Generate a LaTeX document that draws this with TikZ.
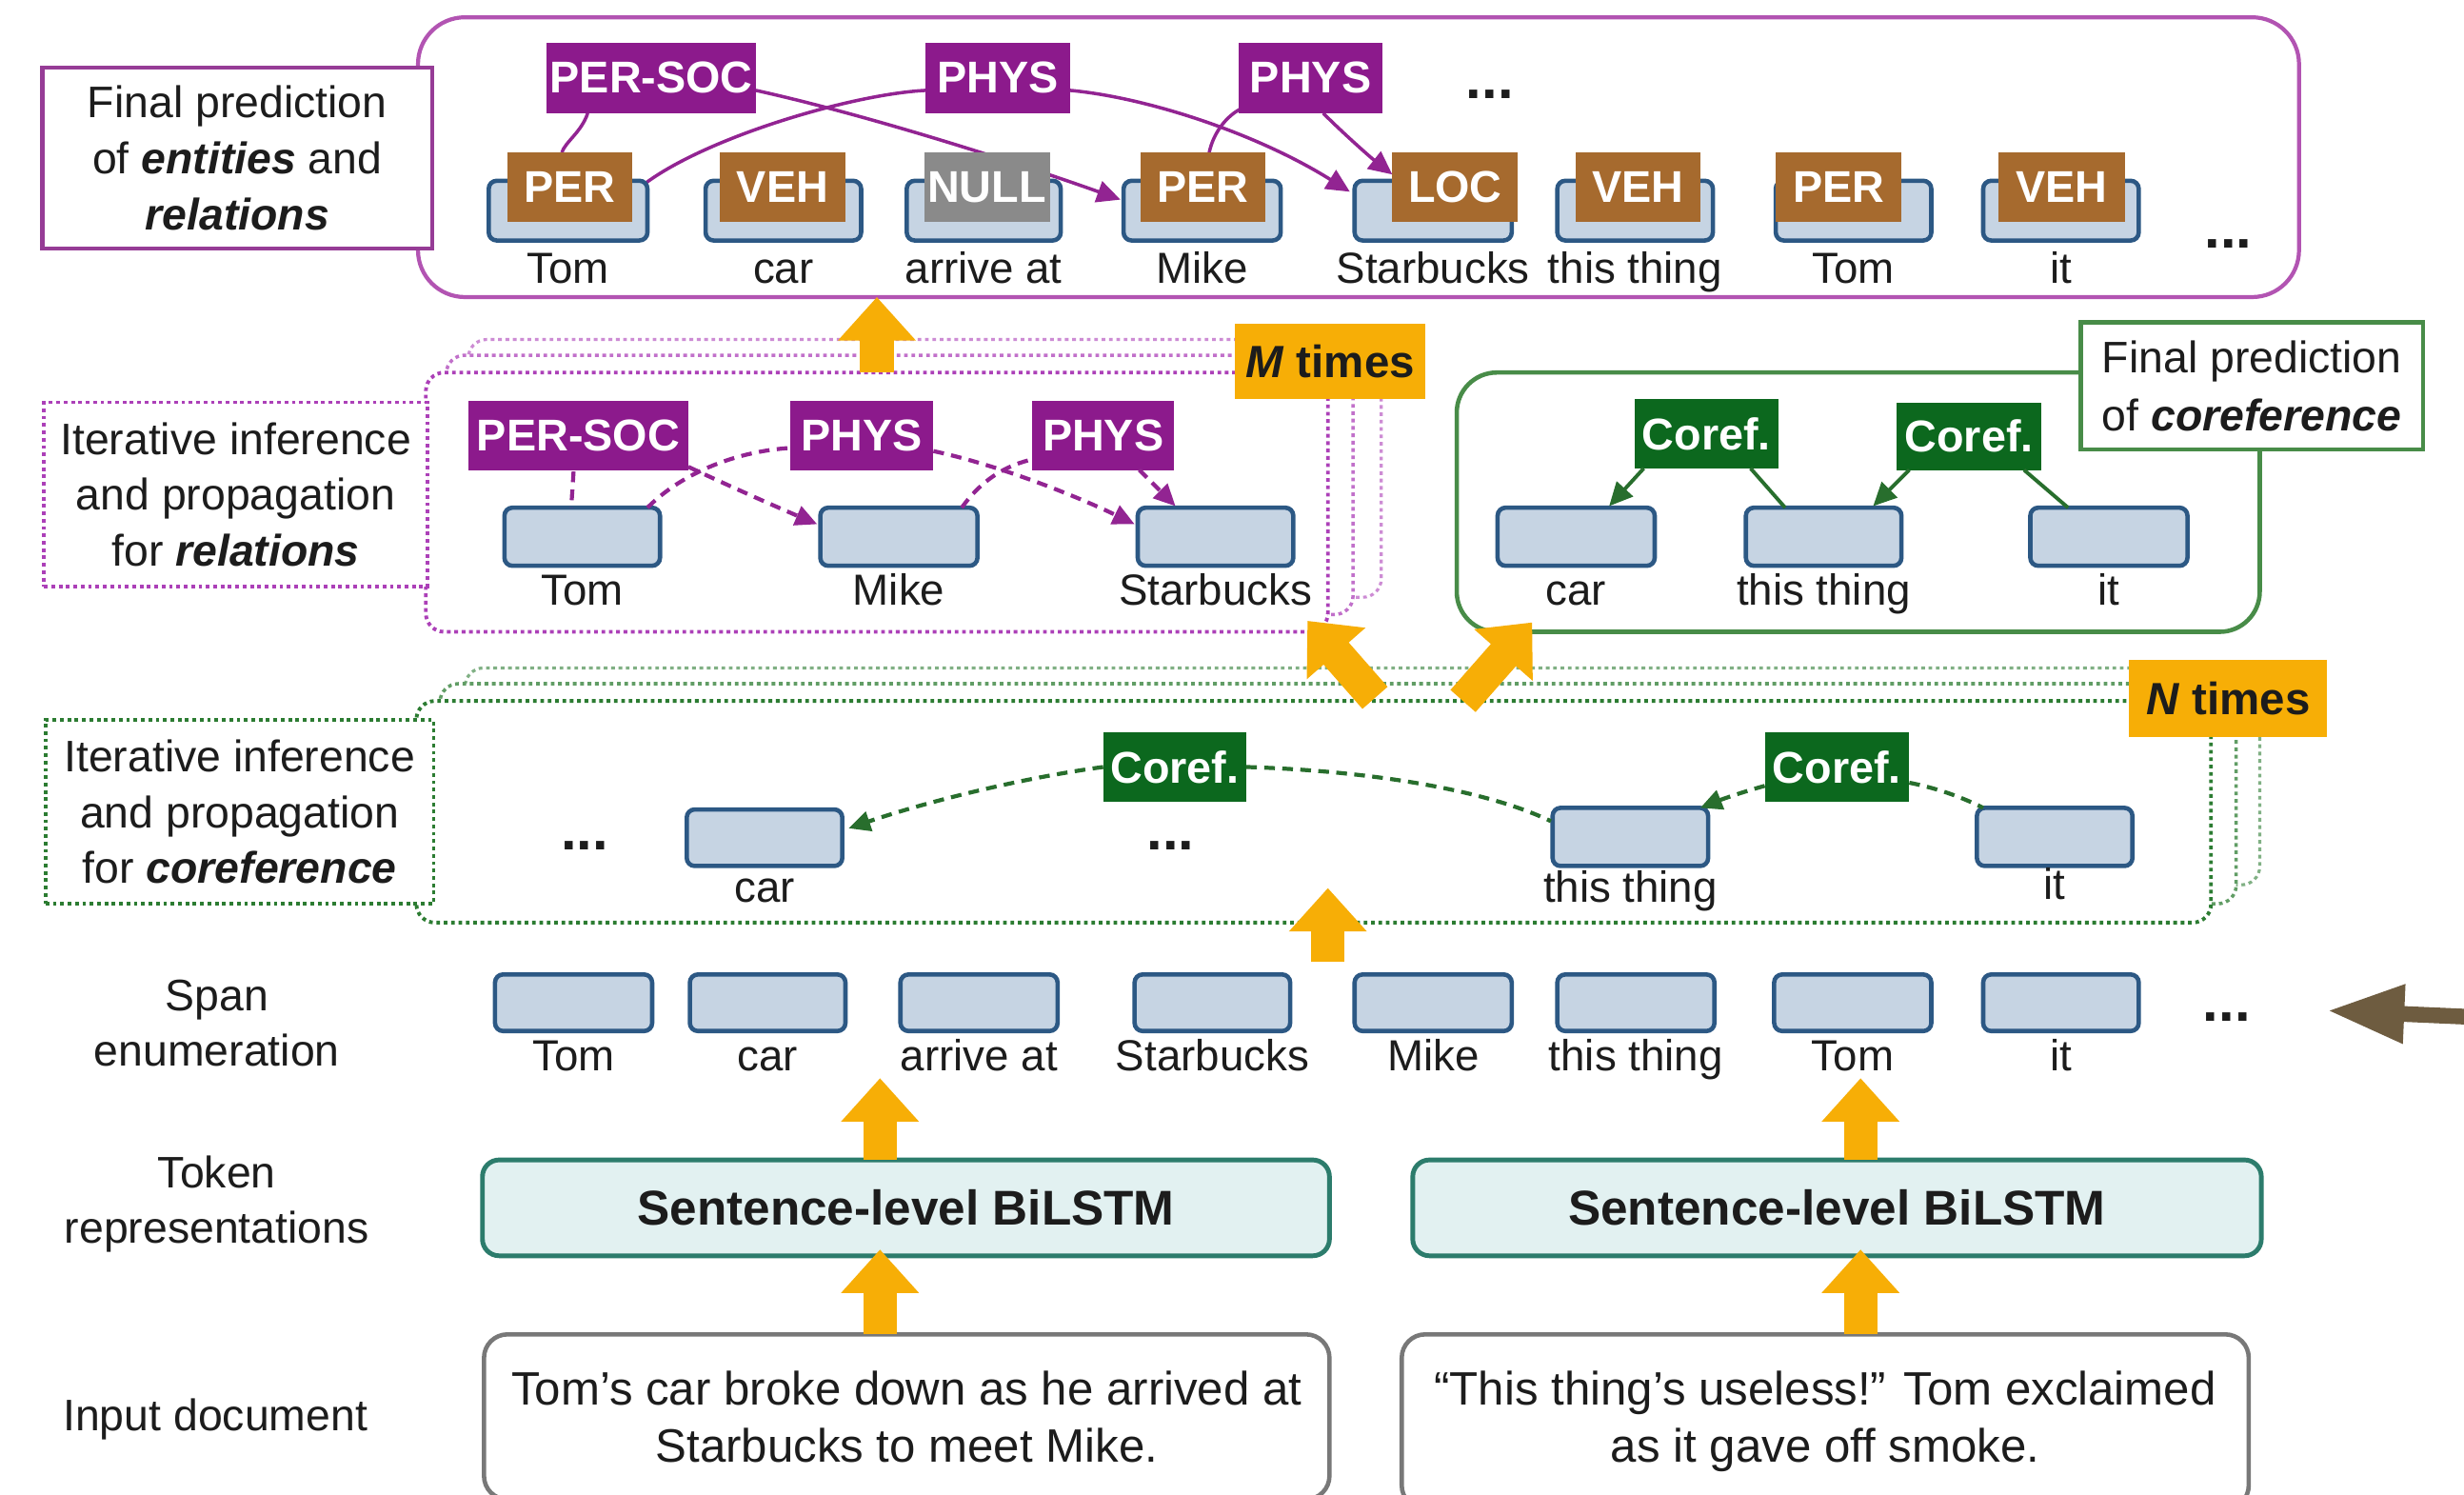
\documentclass[tikz,border=0pt]{standalone}
\usepackage{fontspec}
\setmainfont{Liberation Sans}
\usetikzlibrary{calc,arrows.meta}
\pgfdeclarelayer{paper}
\pgfdeclarelayer{links}
\pgfsetlayers{paper,links,main}

\definecolor{inkc}{RGB}{28,28,28}
\definecolor{relc}{RGB}{140,26,140}
\definecolor{rellinec}{RGB}{146,36,146}
\definecolor{finalrelc}{RGB}{178,84,178}
\definecolor{relboxc}{RGB}{150,60,150}
\definecolor{reldotc}{RGB}{172,64,184}
\definecolor{entc}{RGB}{166,106,46}
\definecolor{nullc}{RGB}{138,138,138}
\definecolor{spanfillc}{RGB}{198,212,227}
\definecolor{spanedgec}{RGB}{44,88,132}
\definecolor{corefc}{RGB}{12,104,30}
\definecolor{corlinec}{RGB}{40,110,45}
\definecolor{corboxc}{RGB}{72,140,72}
\definecolor{cordotc}{RGB}{44,124,50}
\definecolor{amberc}{RGB}{247,174,6}
\definecolor{lstmfillc}{RGB}{226,241,241}
\definecolor{lstmedgec}{RGB}{44,124,108}
\definecolor{docedgec}{RGB}{120,120,120}
\definecolor{pointerc}{RGB}{110,92,64}

\tikzset{
  % place a rectangular node by its corners, in the picture's units
  spot/.style n args={4}{at={({(#1+#3)/2},{(#2+#4)/2})},
    minimum width={(#3-#1)*0.016505cm}, minimum height={(#4-#2)*0.016505cm}},
  box/.style={inner sep=0pt, outer sep=0pt},
  spanbox/.style={box, rounded corners=2.4pt, fill=spanfillc, draw=spanedgec, line width=1.3pt},
  tagfont/.style={font=\bfseries\fontsize{13.3pt}{16pt}\selectfont, text=white},
  enttag/.style={box, tagfont, fill=entc},
  nulltag/.style={box, tagfont, fill=nullc},
  reltag/.style={box, tagfont, fill=relc},
  coreftag/.style={box, tagfont, fill=corefc},
  word/.style={inner sep=0pt, anchor=base, text=inkc, font=\fontsize{13pt}{15.6pt}\selectfont},
  sidelabel/.style={inner sep=0pt, align=center, text=inkc, font=\fontsize{13.2pt}{16.7pt}\selectfont},
  dotsmark/.style={inner sep=0pt, anchor=base, text=inkc, font=\bfseries\fontsize{17pt}{20pt}\selectfont},
  timesbox/.style={box, fill=amberc, text=inkc, font=\bfseries\fontsize{13.5pt}{16pt}\selectfont},
  relstack/.style={box, fill=white, draw=reldotc, line width=1.1pt, dash pattern=on 1.1pt off 1.1pt, rounded corners=5.5pt},
  corstack/.style={box, fill=white, draw=cordotc, line width=1.1pt, dash pattern=on 1.1pt off 1.1pt, rounded corners=5.5pt},
  relline/.style={draw=rellinec, line width=1pt},
  relarrow/.style={relline, -{Triangle[length=7pt,width=6.5pt]}},
  reldash/.style={draw=rellinec, line width=1.2pt, dash pattern=on 3.2pt off 2.2pt},
  reldasharrow/.style={reldash, -{Triangle[length=6.5pt,width=6pt]}},
  corline/.style={draw=corlinec, line width=1.1pt},
  corarrow/.style={corline, -{Triangle[length=7pt,width=6.5pt]}},
  cordash/.style={draw=corlinec, line width=1.2pt, dash pattern=on 3.2pt off 2.2pt},
  cordasharrow/.style={cordash, -{Triangle[length=6.5pt,width=6pt]}},
  flowarrow/.style={draw=amberc, line width=10pt, -{Triangle[length=13pt,width=22.5pt]}},
  pointer/.style={draw=pointerc, line width=4.7pt, -{Triangle[length=23pt,width=16.5pt]}},
}

\begin{document}
\begin{tikzpicture}[x=0.016505cm, y=-0.016505cm]
\useasboundingbox (0,0) rectangle (1568,951);
\begin{pgfonlayer}{paper}
  \fill[white] (0,0) rectangle (1568,951);
\end{pgfonlayer}

% ---------- final prediction of entities and relations ----------
\node[box, draw=finalrelc, line width=1.2pt, rounded corners=14pt, spot={266}{11}{1463}{189}] (final) {};
\node[box, fill=white, draw=relboxc, line width=1.2pt, sidelabel, spot={27}{43}{275}{158}] (finallbl)
  {Final prediction\\of \textbf{\textit{entities}} and\\\textbf{\textit{relations}}};

\node[spanbox, spot={311}{115}{412}{153}] (fb1) {};
\node[spanbox, spot={449}{115}{548}{153}] (fb2) {};
\node[spanbox, spot={577}{115}{675}{153}] (fb3) {};
\node[spanbox, spot={715}{115}{815}{153}] (fb4) {};
\node[spanbox, spot={862}{115}{962}{153}] (fb5) {};
\node[spanbox, spot={991}{115}{1090}{153}] (fb6) {};
\node[spanbox, spot={1130}{115}{1229}{153}] (fb7) {};
\node[spanbox, spot={1262}{115}{1361}{153}] (fb8) {};

\node[enttag, spot={323}{97}{402}{141}] (ft1) {PER};
\node[enttag, spot={458}{97}{538}{141}] (ft2) {VEH};
\node[nulltag, spot={588}{97}{668}{141}] (ft3) {NULL};
\node[enttag, spot={726}{97}{805}{141}] (ft4) {PER};
\node[enttag, spot={886}{97}{966}{141}] (ft5) {LOC};
\node[enttag, spot={1003}{97}{1082}{141}] (ft6) {VEH};
\node[enttag, spot={1130}{97}{1210}{141}] (ft7) {PER};
\node[enttag, spot={1272}{97}{1352}{141}] (ft8) {VEH};

\node[word] (fw1) at ($(fb1.south)+(0,27)$) {Tom};
\node[word] (fw2) at ($(fb2.south)+(0,27)$) {car};
\node[word] (fw3) at ($(fb3.south)+(0,27)$) {arrive at};
\node[word] (fw4) at ($(fb4.south)+(0,27)$) {Mike};
\node[word] (fw5) at ($(fb5.south)+(0,27)$) {Starbucks};
\node[word] (fw6) at ($(fb6.south)+(0,27)$) {this thing};
\node[word] (fw7) at ($(fb7.south)+(0,27)$) {Tom};
\node[word] (fw8) at ($(fb8.south)+(0,27)$) {it};
\node[dotsmark] (fdots) at (1418,158) {...};
\node[dotsmark] (fdotstop) at (948,63) {...};

\node[reltag, spot={348}{27}{481}{72}] (fr1) {PER-SOC};
\node[reltag, spot={589}{27}{681}{72}] (fr2) {PHYS};
\node[reltag, spot={788}{27}{880}{72}] (fr3) {PHYS};

\begin{pgfonlayer}{links}
  \draw[relline] ($(fr1.south west)+(26,0)$) .. controls (370,84) and (360,90) .. ($(ft1.north)+(-5,0)$);
  \draw[relarrow] ($(fr1.east)+(0,8)$) .. controls (560,75) and (660,108) .. ($(fb4.west)+(-2,-7)$);
  \draw[relline] ($(ft1.east)+(2,3)$) .. controls (440,90) and (540,60) .. ($(fr2.west)+(0,8)$);
  \draw[relarrow] ($(fr2.east)+(0,8)$) .. controls (730,62) and (800,85) .. ($(fb5.west)+(-3,-12)$);
  \draw[relline] ($(ft4.north)+(4,0)$) .. controls (772,85) and (780,74) .. ($(fr3.south west)+(2,-3)$);
  \draw[relarrow] ($(fr3.south)+(8,0)$) .. controls (855,85) and (872,100) .. ($(ft5.west)+(0,-8)$);
\end{pgfonlayer}

% ---------- iterative inference for relations ----------
\node[relstack, draw=reldotc!60, line width=0.9pt, spot={298}{216}{879}{380}] (relB) {};
\node[relstack, draw=reldotc!75, line width=1pt, spot={284}{226}{861}{391}] (relM) {};
\node[relstack, spot={271}{237}{845}{402}] (relF) {};
\node[box, fill=white, draw=reldotc, line width=1.1pt, dash pattern=on 1.1pt off 1.1pt, sidelabel, spot={28}{256}{272}{373}] (rellbl)
  {Iterative inference\\and propagation\\for \textbf{\textit{relations}}};

\node[spanbox, spot={321}{323}{420}{360}] (rb1) {};
\node[spanbox, spot={522}{323}{622}{360}] (rb2) {};
\node[spanbox, spot={724}{323}{823}{360}] (rb3) {};
\node[word] (rw1) at ($(rb1.south)+(0,25)$) {Tom};
\node[word] (rw2) at ($(rb2.south)+(0,25)$) {Mike};
\node[word] (rw3) at ($(rb3.south)+(0,25)$) {Starbucks};

\node[reltag, spot={298}{255}{438}{299}] (rt1) {PER-SOC};
\node[reltag, spot={503}{255}{594}{299}] (rt2) {PHYS};
\node[reltag, spot={657}{255}{747}{299}] (rt3) {PHYS};

\draw[reldash] ($(rt1.south)+(-3,1)$) -- ($(rb1.north)+(-7,0)$);
\draw[reldasharrow] ($(rt1.east)+(0,20)$) .. controls (470,312) and (500,325) .. ($(rb2.west)+(-2,-8)$);
\draw[reldash] ($(rb1.north east)+(-8,0)$) .. controls (435,300) and (470,287) .. ($(rt2.west)+(0,8)$);
\draw[reldasharrow] ($(rt2.east)+(0,10)$) .. controls (640,297) and (690,318) .. ($(rb3.west)+(-2,-8)$);
\draw[reldash] ($(rb2.north east)+(-10,0)$) .. controls (625,305) and (640,296) .. ($(rt3.west)+(1,15)$);
\draw[reldasharrow] ($(rt3.south)+(23,0)$) -- ($(rb3.north west)+(24,-1)$);

\node[timesbox, spot={786}{206}{907}{254}] (mtimes) {\textit{M} times};

% ---------- final prediction of coreference ----------
\node[box, fill=white, draw=corboxc, line width=1.3pt, rounded corners=12pt, spot={927}{237}{1438}{402}] (corfinal) {};
\node[box, fill=white, draw=corboxc, line width=1.3pt, sidelabel, font=\fontsize{13.2pt}{17.4pt}\selectfont, spot={1324}{205}{1542}{286}] (corlbl)
  {Final prediction\\of \textbf{\textit{coreference}}};

\node[spanbox, spot={953}{323}{1053}{360}] (hb1) {};
\node[spanbox, spot={1111}{323}{1210}{360}] (hb2) {};
\node[spanbox, spot={1292}{323}{1392}{360}] (hb3) {};
\node[word] (hw1) at ($(hb1.south)+(0,25)$) {car};
\node[word] (hw2) at ($(hb2.south)+(0,25)$) {this thing};
\node[word] (hw3) at ($(hb3.south)+(0,25)$) {it};

\node[coreftag, spot={1040}{254}{1132}{298}] (ht1) {Coref.};
\node[coreftag, spot={1207}{256}{1299}{299}] (ht2) {Coref.};

\draw[corarrow] ($(ht1.south west)+(6,0)$) -- ($(hb1.north)+(21,-1)$);
\draw[corline] ($(ht1.south)+(28,0)$) -- ($(hb2.north west)+(25,0)$);
\draw[corarrow] ($(ht2.south west)+(8,0)$) -- ($(hb2.north east)+(-18,-1)$);
\draw[corline] ($(ht2.south east)+(-11,0)$) -- ($(hb3.north west)+(24,0)$);

% ---------- iterative inference for coreference ----------
\node[corstack, draw=cordotc!60, line width=0.9pt, spot={296}{425}{1438}{563}] (corB) {};
\node[corstack, draw=cordotc!75, line width=1pt, spot={280}{435}{1423}{575}] (corM) {};
\node[corstack, spot={265}{446}{1407}{587}] (corF) {};
\node[box, fill=white, draw=cordotc, line width=1.1pt, dash pattern=on 1.1pt off 1.1pt, sidelabel, spot={29}{458}{276}{575}] (corilbl)
  {Iterative inference\\and propagation\\for \textbf{\textit{coreference}}};

\node[dotsmark] (cdots1) at (372,541) {...};
\node[dotsmark] (cdots2) at (745,541) {...};
\node[spanbox, spot={437}{515}{536}{551}] (kb1) {};
\node[spanbox, spot={988}{514}{1087}{551}] (kb2) {};
\node[spanbox, spot={1258}{514}{1357}{551}] (kb3) {};
\node[word] (kw1) at ($(kb1.south)+(0,23)$) {car};
\node[word] (kw2) at ($(kb2.south)+(0,23)$) {this thing};
\node[word] (kw3) at ($(kb3.south)+(0,21)$) {it};

\node[coreftag, spot={702}{466}{793}{510}] (kt1) {Coref.};
\node[coreftag, spot={1123}{466}{1215}{510}] (kt2) {Coref.};

\draw[cordasharrow] (kt1.west) .. controls (650,495) and (590,510) .. ($(kb1.north east)+(4,12)$);
\draw[cordash] (kt1.east) .. controls (860,490) and (940,500) .. ($(kb2.west)+(-1,-10)$);
\draw[cordasharrow] ($(kt2.west)+(0,12)$) .. controls (1105,505) and (1092,510) .. ($(kb2.north east)+(-5,0)$);
\draw[cordash] ($(kt2.east)+(0,10)$) .. controls (1235,502) and (1250,508) .. ($(kb3.north west)+(4,0)$);

\node[timesbox, spot={1355}{420}{1481}{469}] (ntimes) {\textit{N} times};

% ---------- span enumeration ----------
\node[sidelabel, font=\fontsize{13.2pt}{16.4pt}\selectfont] (spanlbl) at (138,651) {Span\\enumeration};
\node[spanbox, spot={315}{620}{415}{656}] (sp1) {};
\node[spanbox, spot={439}{620}{538}{656}] (sp2) {};
\node[spanbox, spot={573}{620}{673}{656}] (sp3) {};
\node[spanbox, spot={722}{620}{821}{656}] (sp4) {};
\node[spanbox, spot={862}{620}{962}{656}] (sp5) {};
\node[spanbox, spot={991}{620}{1091}{656}] (sp6) {};
\node[spanbox, spot={1129}{620}{1229}{656}] (sp7) {};
\node[spanbox, spot={1262}{620}{1361}{656}] (sp8) {};
\node[word] (sw1) at ($(sp1.south)+(0,25)$) {Tom};
\node[word] (sw2) at ($(sp2.south)+(0,25)$) {car};
\node[word] (sw3) at ($(sp3.south)+(0,25)$) {arrive at};
\node[word] (sw4) at ($(sp4.south)+(0,25)$) {Starbucks};
\node[word] (sw5) at ($(sp5.south)+(0,25)$) {Mike};
\node[word] (sw6) at ($(sp6.south)+(0,25)$) {this thing};
\node[word] (sw7) at ($(sp7.south)+(0,25)$) {Tom};
\node[word] (sw8) at ($(sp8.south)+(0,25)$) {it};
\node[dotsmark] (sdots) at (1417,650) {...};

\coordinate (ptail) at (1572,647);
\coordinate (ptip) at (1481,643);
\draw[pointer] (ptail) -- (ptip);

% ---------- token representations ----------
\node[sidelabel, font=\fontsize{13.2pt}{16.4pt}\selectfont] (toklbl) at (138,766) {Token\\representations};
\node[box, fill=lstmfillc, draw=lstmedgec, line width=1.4pt, rounded corners=5pt,
      font=\bfseries\fontsize{14.6pt}{17pt}\selectfont, text=inkc, spot={307}{738}{846}{799}] (lstm1) {Sentence-level BiLSTM};
\node[box, fill=lstmfillc, draw=lstmedgec, line width=1.4pt, rounded corners=5pt,
      font=\bfseries\fontsize{14.6pt}{17pt}\selectfont, text=inkc, spot={899}{738}{1439}{799}] (lstm2) {Sentence-level BiLSTM};

% ---------- input document ----------
\node[sidelabel] (doclbl) at (137,903) {Input document};
\node[box, fill=white, draw=docedgec, line width=1.3pt, rounded corners=7pt, align=center, text=inkc,
      font=\fontsize{14pt}{17.1pt}\selectfont, spot={308}{849}{846}{954}] (doc1)
  {Tom’s car broke down as he arrived at\\Starbucks to meet Mike.};
\node[box, fill=white, draw=docedgec, line width=1.3pt, rounded corners=7pt, align=center, text=inkc,
      font=\fontsize{14pt}{17.1pt}\selectfont, spot={892}{849}{1431}{960}] (doc2)
  {“This thing’s useless!” Tom exclaimed\\as it gave off smoke.};

% ---------- flow arrows ----------
\draw[flowarrow] (doc1.north -| 560,0) -- ($(lstm1.south -| 560,0)+(0,-4)$);
\draw[flowarrow] (doc2.north -| 1184,0) -- ($(lstm2.south -| 1184,0)+(0,-4)$);
\draw[flowarrow] (lstm1.north -| 560,0) -- ($(lstm1.north -| 560,0)+(0,-52)$);
\draw[flowarrow] (lstm2.north -| 1184,0) -- ($(lstm2.north -| 1184,0)+(0,-52)$);
\coordinate (uptail) at (845,612);
\draw[flowarrow] (uptail) -- ($(uptail |- corF.south)+(0,-22)$);
\coordinate (dtail1) at (875,444);
\coordinate (dtail2) at (931,446);
\draw[flowarrow] (dtail1) -- ($(relF.south east)+(-13,-7)$);
\draw[flowarrow] (dtail2) -- ($(corfinal.south west)+(48,-6)$);
\draw[flowarrow] (relF.north -| 558,0) -- (final.south -| 558,0);
\end{tikzpicture}
\end{document}
